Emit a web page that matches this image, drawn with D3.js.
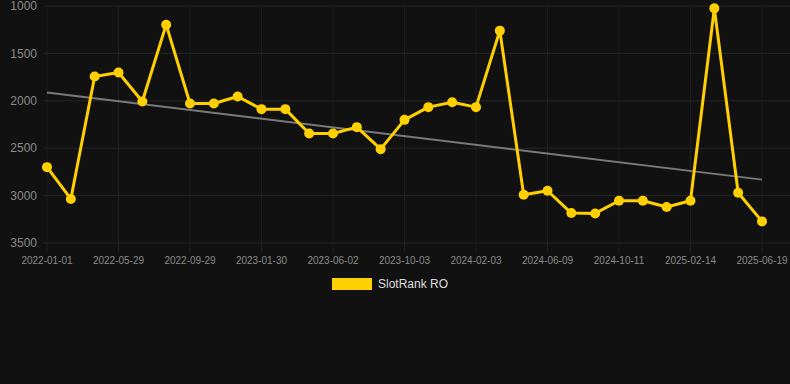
<!DOCTYPE html>
<html lang="en">
<head>
    <meta charset="UTF-8">
    <title>SlotRank RO</title>
    <style>
        html, body {
            margin: 0;
            padding: 0;
            background: #111111;
        }
        svg {
            display: block;
            font-family: "Liberation Sans", Arial, sans-serif;
        }
    </style>
</head>
<body>
    <svg id="chart" width="790" height="384"></svg>

    <script src="https://d3js.org/d3.v7.min.js"></script>
    <script>
        // Rank values, one per point (lower rank = better, axis is inverted)
        const rankValues = [
            2700, 3035, 1744, 1702, 2008, 1197, 2029, 2029, 1955, 2088, 2088,
            2345, 2345, 2278, 2510, 2201, 2067, 2015, 2067, 1260, 2991, 2949,
            3184, 3188, 3054, 3054, 3121, 3054, 1025, 2970, 3272
        ];
        // Labels shown on the x axis (every third point)
        const xTickLabels = [
            "2022-01-01", "2022-05-29", "2022-09-29", "2023-01-30", "2023-06-02",
            "2023-10-03", "2024-02-03", "2024-06-09", "2024-10-11", "2025-02-14",
            "2025-06-19"
        ];
        const xTickEvery = 3;
        const yTicks = [1000, 1500, 2000, 2500, 3000, 3500];
        const seriesName = "SlotRank RO";

        const svg = d3.select("#chart");
        const plotLeft = 43, plotRight = 790, plotTop = 6, plotBottom = 243;

        const x = d3.scaleLinear()
            .domain([0, rankValues.length - 1])
            .range([47, 762]);

        const y = d3.scaleLinear()
            .domain([1000, 3500])
            .range([plotTop, plotBottom]);

        // horizontal grid + y labels
        const yAxis = svg.append("g");
        yTicks.forEach(t => {
            yAxis.append("line")
                .attr("x1", plotLeft).attr("x2", plotRight)
                .attr("y1", y(t)).attr("y2", y(t))
                .attr("stroke", "#262626")
                .attr("stroke-width", 1);
            yAxis.append("text")
                .attr("x", 37)
                .attr("y", y(t))
                .attr("dy", "0.35em")
                .attr("text-anchor", "end")
                .attr("fill", "#8a8a8a")
                .attr("font-size", 12)
                .text(t);
        });

        // vertical grid + x labels
        const xAxis = svg.append("g");
        xTickLabels.forEach((lbl, i) => {
            const xi = x(i * xTickEvery);
            xAxis.append("line")
                .attr("x1", xi).attr("x2", xi)
                .attr("y1", plotTop).attr("y2", plotBottom + 9)
                .attr("stroke", "#1f1f1f")
                .attr("stroke-width", 1);
            xAxis.append("text")
                .attr("x", xi)
                .attr("y", 260)
                .attr("dy", "0.35em")
                .attr("text-anchor", "middle")
                .attr("fill", "#8a8a8a")
                .attr("font-size", 10)
                .text(lbl);
        });

        // trend line (least squares fit of the series)
        const n = rankValues.length;
        const mx = d3.mean(rankValues, (d, i) => i);
        const my = d3.mean(rankValues);
        const slope = d3.sum(rankValues, (d, i) => (i - mx) * (d - my)) /
                      d3.sum(rankValues, (d, i) => (i - mx) * (i - mx));
        const intercept = my - slope * mx;
        svg.append("line")
            .attr("x1", x(0)).attr("y1", y(intercept))
            .attr("x2", x(n - 1)).attr("y2", y(intercept + slope * (n - 1)))
            .attr("stroke", "#7a7a7a")
            .attr("stroke-width", 2);

        // series line
        const line = d3.line()
            .x((d, i) => x(i))
            .y(d => y(d));

        svg.append("path")
            .datum(rankValues)
            .attr("fill", "none")
            .attr("stroke", "#FFD000")
            .attr("stroke-width", 3)
            .attr("stroke-linejoin", "round")
            .attr("d", line);

        svg.append("g").selectAll("circle")
            .data(rankValues)
            .join("circle")
            .attr("cx", (d, i) => x(i))
            .attr("cy", d => y(d))
            .attr("r", 5)
            .attr("fill", "#FFD000");

        // legend
        const legend = svg.append("g");
        legend.append("rect")
            .attr("x", 332).attr("y", 278)
            .attr("width", 40).attr("height", 12)
            .attr("fill", "#FFD000");
        legend.append("text")
            .attr("x", 378).attr("y", 284)
            .attr("dy", "0.35em")
            .attr("fill", "#dddddd")
            .attr("font-size", 12)
            .text(seriesName);
    </script>
</body>
</html>
